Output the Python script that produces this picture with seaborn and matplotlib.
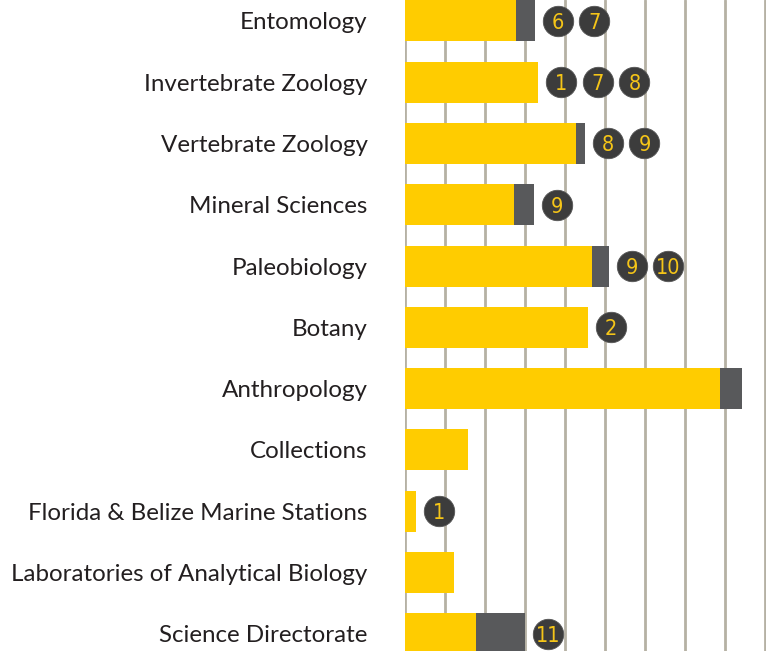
import matplotlib
matplotlib.use("Agg")
import matplotlib.pyplot as plt
import pandas as pd
import seaborn as sns

# departments, top to bottom
departments = [
    "Entomology", "Invertebrate Zoology", "Vertebrate Zoology", "Mineral Sciences",
    "Paleobiology", "Botany", "Anthropology", "Collections",
    "Florida & Belize Marine Stations", "Laboratories of Analytical Biology",
    "Science Directorate",
]
# yellow segment and grey segment (grid units)
yellow_vals = [2.78, 3.33, 4.28, 2.73, 4.68, 4.58, 7.88, 1.58, 0.28, 1.23, 1.78]
grey_vals = [0.47, 0.0, 0.22, 0.50, 0.42, 0.0, 0.55, 0.0, 0.0, 0.0, 1.22]
# footnote numbers after each bar
notes = [[6, 7], [1, 7, 8], [8, 9], [9], [9, 10], [2], [], [], [1], [], [11]]

YELLOW = "#FFCC00"
GREY = "#58595B"
DOT = "#3C3C3C"
GRID = "#B5B1A4"

sns.set_theme(style="white")
plt.rcParams["font.family"] = ["Lato", "DejaVu Sans"]

df = pd.DataFrame({"dept": departments, "yellow": yellow_vals,
                   "total": [y + g for y, g in zip(yellow_vals, grey_vals)]})

fig = plt.figure(figsize=(7.66, 6.51), dpi=100)
ax = fig.add_axes([405 / 766, 0, 1 - 405 / 766, 1])

# grid behind bars
for gx in range(0, 10):
    ax.axvline(gx, color=GRID, lw=2, zorder=0)

sns.barplot(data=df, y="dept", x="total", orient="h", color=GREY,
            width=0.67, saturation=1, linewidth=0, ax=ax, zorder=2)
sns.barplot(data=df, y="dept", x="yellow", orient="h", color=YELLOW,
            width=0.67, saturation=1, linewidth=0, ax=ax, zorder=3)

# numbered circles after each bar
for i, (end, nums) in enumerate(zip(df["total"], notes)):
    for k, n in enumerate(nums):
        cx = end + 0.57 + 0.92 * k
        ax.scatter(cx, i, s=480, color=DOT, edgecolor="#555555", lw=0.6,
                   zorder=4, clip_on=False)
        ax.text(cx, i + 0.03, str(n), color="#F5C518", fontsize=15.5,
                ha="center", va="center", zorder=5, fontstretch="condensed",
                family=["DejaVu Sans"])

ax.set_xlim(0, 9.03)
ax.set_ylim(10.28, -0.34)
ax.set_xlabel("")
ax.set_ylabel("")
ax.set_xticks([])
ax.tick_params(axis="y", length=0, pad=27, labelsize=17.4, labelcolor="#231F20")
for s in ax.spines.values():
    s.set_visible(False)

fig.savefig("out.png", dpi=100)
